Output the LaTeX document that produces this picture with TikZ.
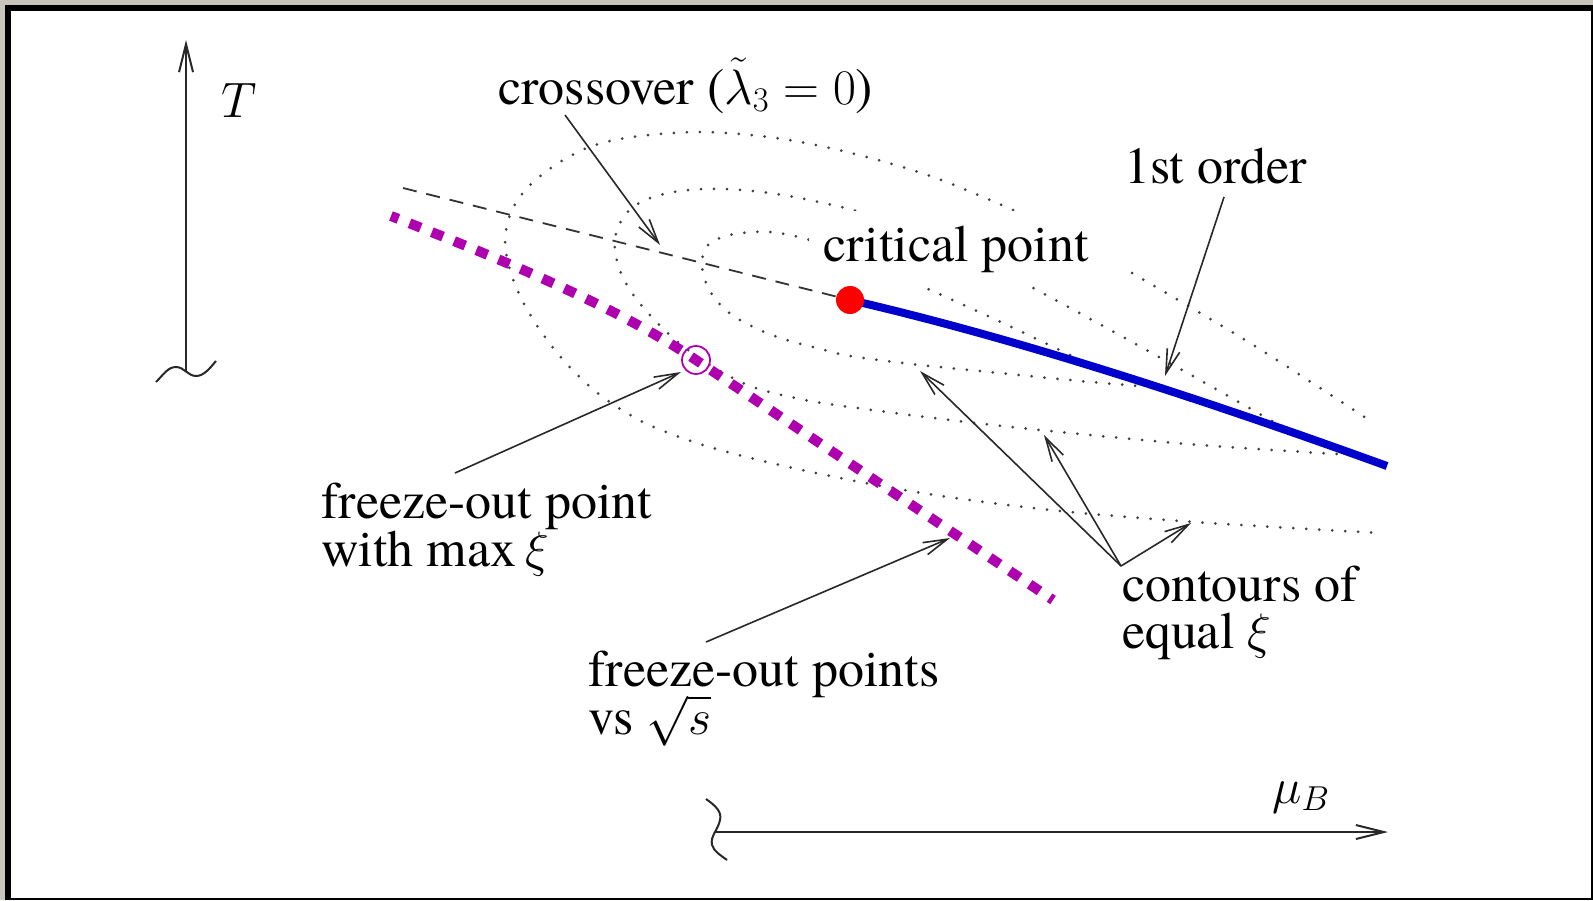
\documentclass[tikz,border=0pt]{standalone}
\usepackage{fontspec}
\IfFontExistsTF{texgyretermes-regular.otf}{%
  \setmainfont{texgyretermes}[Extension=.otf,UprightFont=*-regular,ItalicFont=*-italic,BoldFont=*-bold,BoldItalicFont=*-bolditalic]}{%
  \setmainfont{Liberation Serif}}
\usetikzlibrary{arrows.meta}
\definecolor{bggray}{RGB}{199,197,188}
\definecolor{fomag}{RGB}{175,0,175}
\definecolor{fobl}{RGB}{0,0,205}
\definecolor{cpred}{RGB}{255,0,0}
\definecolor{arrgray}{RGB}{40,40,40}
\tikzset{
  lbl/.style={inner sep=0pt, anchor=base west, font=\fontsize{26pt}{24pt}\selectfont},
  contour/.style={line width=1.5pt, black!75, line cap=round, dash pattern=on 0pt off 6.5pt},
  callout/.style={line width=0.8pt, arrgray, -{Straight Barb[length=12pt,width=6.5pt,line width=0.8pt]}},
  axisline/.style={line width=1pt, arrgray},
  axisarrow/.style={axisline, -{Straight Barb[length=14pt,width=7pt,line width=1pt]}},
  fodash/.style={fomag, line width=5pt, dash pattern=on 6pt off 6pt, dash phase=3pt},
}
\begin{document}
\begin{tikzpicture}[x=0.5pt,y=-0.5pt]
\useasboundingbox (0,0) rectangle (1593,900);
\fill[bggray] (0,0) rectangle (1593,900);
\fill[black] (5,5) rectangle (1593,900);
\fill[white] (11,11) rectangle (1591,898);

% contours of equal xi
\draw[contour] plot[smooth, tension=0.55] coordinates {(1070,355) (990,317) (910,281) (858,258) (810,240) (770,232) (735,234) (710,243) (702,260) (705,280) (716,300) (735,317) (762,331) (790,341) (821,349) (850,356) (920,365) (1000,373) (1080,381) (1163,388)};
\draw[contour] plot[smooth, tension=0.55] coordinates {(1272,421) (1150,352) (1022,282) (950,247) (900,226) (853,210) (783,195) (725,189) (680,191) (645,200) (625,215) (615,238) (618,265) (630,290) (648,313) (672,337) (705,362) (750,386) (800,399) (850,407) (950,420) (1050,431) (1200,445) (1370,456)};
\draw[contour] plot[smooth, tension=0.55] coordinates {(1013,210) (936,178) (859,155) (783,139) (706,132) (640,136) (595,145) (560,162) (530,185) (512,210) (505,240) (510,270) (522,300) (540,330) (565,362) (600,395) (645,423) (700,444) (763,461) (840,478) (922,493) (1000,504) (1081,513) (1209,523) (1380,533)};
\draw[contour] plot[smooth, tension=0.55] coordinates {(1132,273) (1250,343) (1372,422)};

% axes
\coordinate (Tbot) at (186,371);
\coordinate (Ttop) at (186,40);
\draw[axisarrow] (Tbot) -- (Ttop);
\draw[axisline] (156,382) .. controls (164,374) and (168,367) .. (176,367) .. controls (184,367) and (188,376) .. (196,376) .. controls (204,376) and (210,368) .. (216,361);
\coordinate (Mleft) at (715,832);
\coordinate (Mright) at (1388,832);
\draw[axisarrow] (Mleft) -- (Mright);
\draw[axisline] (706,799) .. controls (716,806) and (722,812) .. (720,820) .. controls (718,830) and (710,836) .. (712,845) .. controls (714,852) and (722,856) .. (727,860);

% crossover line, freeze-out line, first-order line
\coordinate (xoStart) at (403,188);
\coordinate (cpc) at (850,300);
\draw[line width=0.9pt, black!80, dash pattern=on 7pt off 5pt] (xoStart) -- (cpc);
\coordinate (foStart) at (391,216);
\coordinate (foMax) at (696,360);
\coordinate (foEnd) at (1053,600);
\draw[fodash] (foMax) .. controls (616,306) and (498,258) .. (foStart);
\draw[fodash] (foMax) -- (foEnd);
\coordinate (foEndB) at (1387,466);
\draw[fobl, line width=4pt] (cpc) .. controls (980,330) and (1150,380) .. (foEndB);
\node[circle, draw=fomag, line width=0.9pt, minimum size=14pt, inner sep=0pt] (fomax) at (foMax) {};
\node[circle, fill=cpred, minimum size=14pt, inner sep=0pt] (cp) at (cpc) {};

% labels
\node[lbl] (lblT) at (221,117) {$T$};
\node[lbl] (lblMu) at (1272,803) {$\mu_B$};
\node[lbl] (lblXo) at (498,104) {crossover ($\tilde\lambda_3=0$)};
\node[lbl, fill=white, inner sep=7pt, anchor=base west] (lblCP) at (809,261) {critical point};
\node[lbl] (lbl1st) at (1124,183) {1st order};
\node[lbl] (lblFOa) at (321,518) {freeze-out point};
\node[lbl] (lblFOb) at (321,566) {with max\,$\xi$};
\node[lbl] (lblFPa) at (588,686) {freeze-out points};
\node[lbl] (lblFPb) at (588,734) {vs $\sqrt{s}$};
\node[lbl] (lblCa) at (1122,601) {contours of};
\node[lbl] (lblCb) at (1122,648) {equal $\xi$};

% callout arrows
\coordinate (xoTail) at (565,115);
\coordinate (xoTip) at (660,245);
\draw[callout] (xoTail) -- (xoTip);
\coordinate (foTail) at (1224,197);
\coordinate (foTip) at (1165,376);
\draw[callout] (foTail) -- (foTip);
\coordinate (fmTail) at (455,473);
\coordinate (fmTip) at (681,372);
\draw[callout] (fmTail) -- (fmTip);
\coordinate (fpTail) at (706,642);
\coordinate (fpTip) at (950,538);
\draw[callout] (fpTail) -- (fpTip);
\coordinate (cOrig) at (1121,566);
\coordinate (cTipA) at (920,371);
\coordinate (cTipB) at (1044,435);
\coordinate (cTipC) at (1191,523);
\draw[callout] (cOrig) -- (cTipA);
\draw[callout] (cOrig) -- (cTipB);
\draw[callout] (cOrig) -- (cTipC);
\end{tikzpicture}
\end{document}
